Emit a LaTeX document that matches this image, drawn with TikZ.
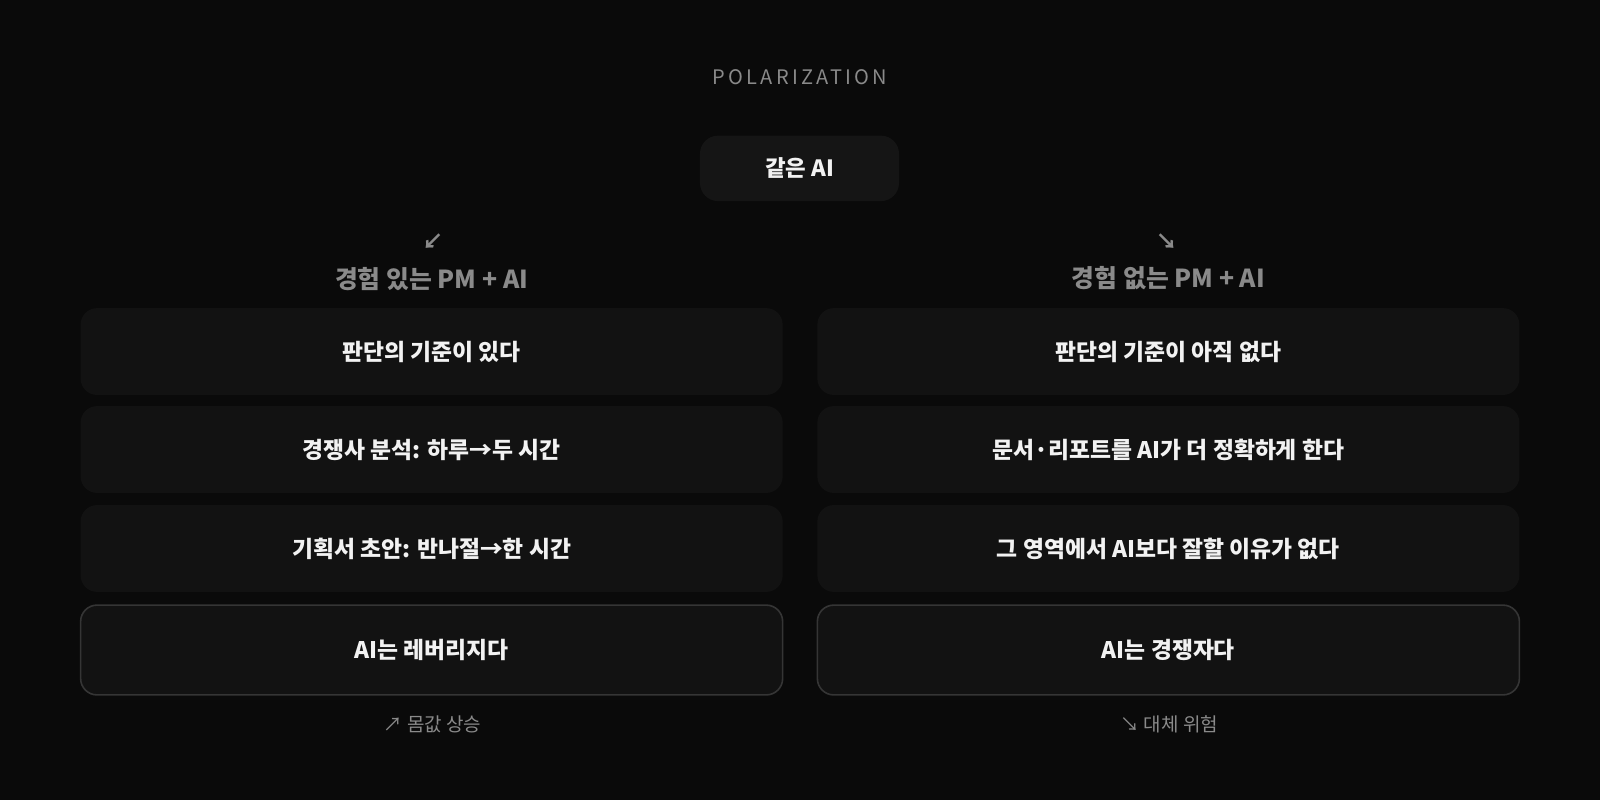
\documentclass[tikz,border=0pt]{standalone}
\usepackage{fontspec}
\setmainfont{Noto Sans CJK KR}
\usepackage{tikz}

\definecolor{bgcol}{HTML}{0A0A0A}
\definecolor{boxcol}{HTML}{121212}
\definecolor{topcol}{HTML}{151515}
\definecolor{edgecol}{HTML}{353535}
\definecolor{graycol}{HTML}{8A8A8A}
\definecolor{textcol}{HTML}{F2F2F2}

\begin{document}
\begin{tikzpicture}[x=0.5102pt, y=-0.5102pt]
\tikzstyle{item} = [rounded corners=8.2pt, fill=boxcol, minimum width=351pt, minimum height=43.4pt, inner sep=0pt, text=textcol, font=\bfseries\fontsize{11.4}{13}\selectfont]
\tikzstyle{result} = [item, draw=edgecol, line width=0.8pt, minimum height=44.9pt]
\tikzstyle{head} = [text=graycol, font=\bfseries\fontsize{12.4}{14}\selectfont]
\tikzstyle{hint} = [text=graycol, font=\fontsize{9.5}{11}\selectfont]
\tikzstyle{fork} = [text=graycol, font=\bfseries\fontsize{10.5}{12}\selectfont]

\useasboundingbox (0,0) rectangle (1568,784);
\fill[bgcol] (0,0) rectangle (1568,784);

\node[text=graycol, font=\fontsize{10}{12}\selectfont\addfontfeature{LetterSpace=16}] (title) at (784,76) {POLARIZATION};
\node[rounded corners=9pt, fill=topcol, minimum width=99.5pt, minimum height=32.7pt, text=textcol, font=\bfseries\fontsize{11.2}{13}\selectfont] (same) at (783.5,165) {같은 AI};

% left side
\node[fork] (la) at (424,237) {↙};
\node[head] (lh) at (423,273) {경험 있는 PM + AI};
\node[item] (l1) at (423,344.5) {판단의 기준이 있다};
\node[item] (l2) at (423,440.5) {경쟁사 분석: 하루→두 시간};
\node[item] (l3) at (423,537.5) {기획서 초안: 반나절→한 시간};
\node[result] (l4) at (423,637) {AI는 레버리지다};
\node[hint] (lc) at (424,710) {↗ 몸값 상승};

% right side
\node[fork] (ra) at (1144,237) {↘};
\node[head] (rh) at (1145,273) {경험 없는 PM + AI};
\node[item] (r1) at (1145,344.5) {판단의 기준이 아직 없다};
\node[item] (r2) at (1145,440.5) {문서·리포트를 AI가 더 정확하게 한다};
\node[item] (r3) at (1145,537.5) {그 영역에서 AI보다 잘할 이유가 없다};
\node[result] (r4) at (1145,637) {AI는 경쟁자다};
\node[hint] (rc) at (1146,710) {↘ 대체 위험};
\end{tikzpicture}
\end{document}
